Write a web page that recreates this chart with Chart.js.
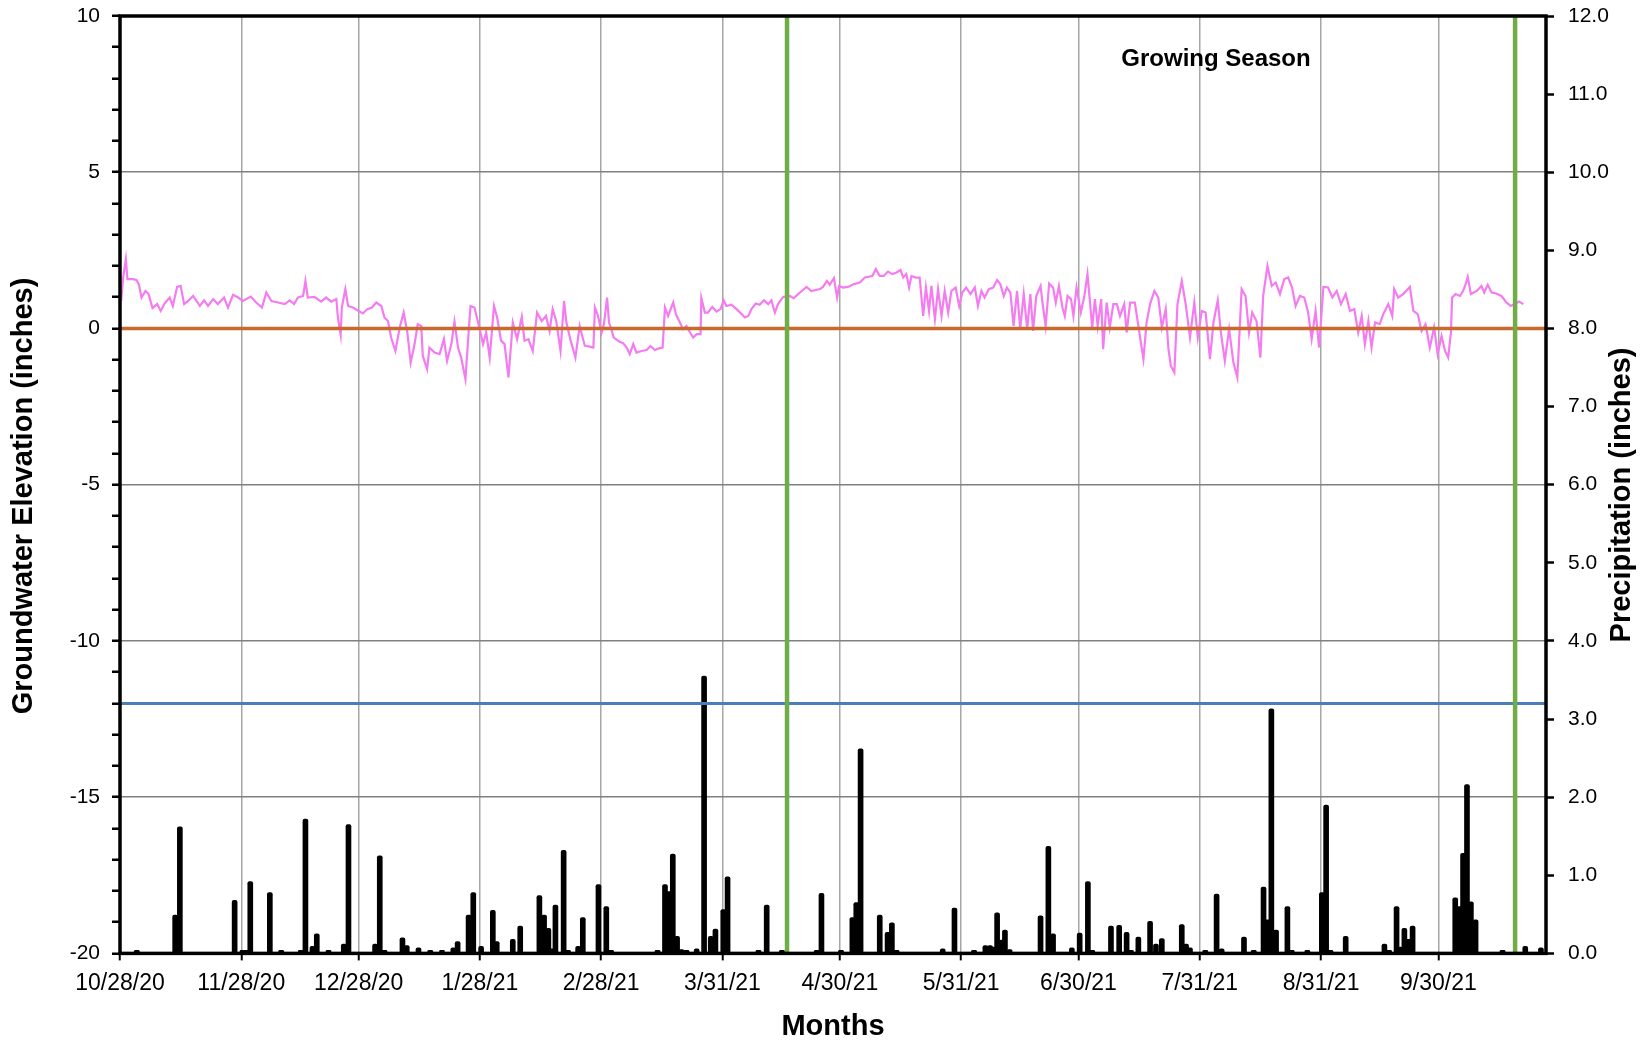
<!DOCTYPE html>
<html>
<head>
<meta charset="utf-8">
<title>Groundwater Elevation and Precipitation</title>
<script src="https://cdn.jsdelivr.net/npm/chart.js@4.4.1/dist/chart.umd.min.js"></script>
<style>
  html, body { margin: 0; padding: 0; background: #fff; }
  #wrap { width: 1648px; height: 1044px; position: relative; }
</style>
</head>
<body>
<div id="wrap"><canvas id="gwChart"></canvas></div>
<script>
// x positions are days since 10/28/20
const tickDays = [0, 31, 61, 92, 123, 154, 184, 215, 245, 276, 307, 337];
const tickLabels = ['10/28/20', '11/28/20', '12/28/20', '1/28/21', '2/28/21', '3/31/21',
  '4/30/21', '5/31/21', '6/30/21', '7/31/21', '8/31/21', '9/30/21'];

// growing season start / end (green lines)
const growingSeason = [170.5, 356.6];
// reference levels (inches)
const groundSurface = 0;
const criterionDepth = -12;

// groundwater elevation (inches)
const gwDays = [
  0.3, 0.8, 1.5, 1.9, 3.3, 4.2, 4.8, 5.5, 6.5, 7.3, 8.3, 9.5, 10.4, 11.4, 12.7, 13.5, 14.6, 15.5, 16.4, 17.4,
  18.7, 20.4, 21.5, 22.5, 23.8, 25.0, 26.6, 27.6, 28.9, 30.2, 31.4, 33.4, 34.8, 36.3, 37.4, 38.7, 40.4, 42.1, 43.4, 44.5,
  45.5, 46.8, 47.4, 48.0, 49.7, 51.4, 52.7, 54.0, 55.3, 55.7, 56.4, 56.7, 57.6, 58.3, 59.5, 61.0, 62.1, 63.2, 64.4, 65.5,
  66.8, 67.6, 68.5, 69.3, 70.4, 71.5, 72.5, 73.4, 74.3, 75.3, 76.1, 77.0, 77.4, 78.5, 79.1, 80.4, 81.7, 82.8, 83.6, 84.7,
  85.5, 86.4, 87.2, 88.3, 88.9, 89.6, 90.6, 91.9, 92.8, 93.6, 94.5, 95.6, 96.4, 97.4, 98.3, 99.3, 100.4, 101.5, 102.7, 103.4,
  104.4, 105.5, 106.6, 107.8, 108.9, 109.8, 110.6, 111.5, 112.6, 113.5, 114.1, 115.2, 116.4, 117.5, 118.8, 120.1, 121.0, 121.4, 122.2, 123.1,
  123.7, 124.5, 125.0, 125.6, 126.2, 127.6, 128.6, 129.5, 130.3, 131.2, 132.0, 133.3, 134.6, 135.6, 136.7, 138.0, 138.7, 139.3, 140.1, 141.4,
  142.1, 143.3, 143.9, 144.8, 145.7, 146.5, 147.4, 148.4, 148.6, 149.5, 150.3, 151.4, 152.5, 153.5, 154.3, 155.0, 156.3, 157.6, 158.9, 159.7,
  160.6, 161.4, 162.5, 163.5, 164.6, 165.7, 166.5, 167.4, 168.2, 169.5, 171.2, 172.2, 173.8, 175.5, 176.7, 178.9, 179.7, 180.7, 181.4, 182.5,
  183.3, 183.8, 184.8, 186.1, 187.6, 189.1, 190.4, 192.3, 193.2, 194.2, 195.2, 196.3, 197.4, 198.5, 199.5, 200.2, 201.0, 201.7, 202.3, 203.4,
  204.4, 205.3, 206.0, 206.8, 207.4, 208.3, 209.1, 210.0, 210.8, 211.7, 212.5, 213.6, 214.5, 215.3, 216.3, 217.4, 218.5, 219.3, 220.2, 221.0,
  222.1, 223.2, 224.2, 225.0, 225.9, 226.7, 227.6, 228.4, 229.3, 230.1, 231.0, 231.9, 232.7, 233.4, 234.2, 235.3, 235.8, 236.6, 237.5, 238.5,
  239.2, 240.0, 240.9, 241.5, 242.2, 243.1, 243.7, 244.5, 245.6, 246.5, 247.3, 247.9, 248.5, 249.2, 249.9, 250.8, 251.3, 252.2, 253.0, 253.9,
  254.8, 255.6, 256.7, 257.3, 258.2, 259.4, 260.5, 261.6, 262.4, 263.3, 264.4, 265.4, 266.3, 267.3, 268.0, 268.6, 269.5, 270.3, 271.4, 272.4,
  273.5, 274.6, 275.5, 276.5, 277.5, 278.6, 279.5, 280.6, 281.4, 282.4, 283.5, 284.6, 285.6, 286.7, 287.7, 288.6, 289.4, 290.5, 291.5, 292.2,
  293.3, 294.4, 295.4, 296.5, 297.6, 298.6, 299.6, 300.5, 301.6, 302.7, 303.7, 304.6, 305.6, 306.5, 307.6, 308.8, 309.9, 311.0, 312.1, 313.3,
  314.4, 315.5, 316.5, 317.4, 318.2, 319.1, 319.9, 320.8, 322.0, 322.9, 324.2, 325.2, 325.7, 326.7, 328.0, 329.7, 330.6, 331.7, 332.7, 333.7,
  334.8, 335.9, 336.8, 337.8, 338.7, 339.5, 340.2, 340.5, 341.4, 342.5, 343.3, 343.8, 344.5, 345.3, 346.8, 348.0, 348.7, 349.6, 350.6, 351.8,
  353.1, 354.4, 355.5, 356.5, 357.6, 358.7
];
const gwElev = [
  0.88, 1.63, 2.22, 1.58, 1.58, 1.55, 1.42, 0.99, 1.2, 1.1, 0.65, 0.78, 0.56, 0.8, 0.99, 0.72, 1.33, 1.36, 0.78, 0.88,
  1.04, 0.72, 0.9, 0.72, 0.94, 0.78, 0.99, 0.67, 1.08, 0.99, 0.88, 1.02, 0.83, 0.67, 1.15, 0.88, 0.83, 0.78, 0.9, 0.78,
  0.99, 1.04, 1.52, 0.99, 1.01, 0.86, 0.99, 0.86, 0.94, 0.35, -0.2, 0.67, 1.26, 0.72, 0.67, 0.56, 0.48, 0.62, 0.67, 0.83,
  0.72, 0.35, 0.24, -0.29, -0.72, 0.03, 0.51, -0.08, -1.09, -0.5, 0.14, 0.08, -0.88, -1.3, -0.61, -0.77, -0.82, -0.34, -1.04, -0.5,
  0.22, -0.61, -0.93, -1.62, -0.5, 0.72, 0.67, 0.0, -0.5, -0.13, -0.93, 0.72, 0.35, -0.39, -0.5, -1.57, 0.19, -0.34, 0.37, -0.39,
  -0.34, -0.72, 0.51, 0.24, 0.4, -0.08, 0.62, 0.24, -0.72, 0.88, 0.19, -0.39, -0.93, 0.08, -0.55, -0.58, -0.61, 0.67, 0.4, -0.13,
  0.14, 0.99, 0.19, -0.02, -0.29, -0.42, -0.47, -0.61, -0.82, -0.5, -0.77, -0.72, -0.69, -0.56, -0.69, -0.63, -0.61, 0.67, 0.4, 0.83,
  0.46, 0.14, -0.02, 0.08, -0.13, -0.29, -0.18, -0.18, 0.97, 0.51, 0.51, 0.69, 0.54, 0.62, 0.9, 0.72, 0.76, 0.62, 0.46, 0.35,
  0.4, 0.62, 0.8, 0.76, 0.9, 0.78, 0.9, 0.51, 0.78, 1.01, 1.04, 0.97, 1.15, 1.33, 1.2, 1.26, 1.33, 1.52, 1.4, 1.61,
  0.99, 1.36, 1.31, 1.33, 1.42, 1.47, 1.63, 1.68, 1.9, 1.68, 1.68, 1.82, 1.74, 1.79, 1.87, 1.63, 1.74, 1.31, 1.68, 1.63,
  1.63, 0.4, 1.31, 0.56, 1.36, 0.3, 1.26, 0.4, 1.2, 0.51, 1.2, 1.31, 0.72, 1.15, 1.31, 1.1, 1.31, 0.72, 1.2, 0.99,
  1.26, 1.31, 1.55, 1.42, 1.04, 1.31, 1.15, 0.08, 1.2, -0.02, 1.1, -0.02, 1.1, -0.08, 1.04, 1.36, 0.83, 0.08, 1.44, 1.31,
  0.83, 1.36, 0.67, 0.4, 1.04, 0.94, 0.4, 1.31, 0.51, 1.04, 1.74, 0.9, 0.03, 0.94, 0.08, 0.94, -0.66, 0.83, 0.03, 0.78,
  0.78, 0.4, 0.78, -0.13, 0.83, 0.83, -0.08, -0.98, 0.19, 0.78, 1.2, 0.99, 0.03, 0.62, -0.66, -1.2, -1.41, 0.78, 1.52, 0.78,
  -0.29, 0.83, -0.29, 0.56, 0.51, -0.98, 0.19, 0.9, -0.13, -1.04, -0.02, -1.09, -1.57, 1.26, 1.04, -0.13, 0.51, 0.24, -0.93, 1.04,
  2.0, 1.36, 1.47, 1.1, 1.58, 1.63, 1.31, 0.72, 1.04, 0.99, 0.51, -0.34, 0.56, -0.61, 1.33, 1.31, 0.99, 1.2, 0.78, 1.1,
  0.56, 0.62, -0.13, 0.4, -0.5, 0.24, -0.61, 0.19, 0.14, 0.46, 0.78, 0.4, 1.26, 0.99, 1.1, 1.33, 0.56, 0.46, -0.08, 0.14,
  -0.61, 0.03, -0.82, -0.24, -0.72, -0.93, -0.13, 0.99, 1.1, 1.04, 1.2, 1.36, 1.65, 1.1, 1.2, 1.36, 1.15, 1.4, 1.15, 1.12,
  1.04, 0.83, 0.72, 0.78, 0.86, 0.78
];

// daily precipitation (inches)
const rainDays = [
  4.3, 14.1, 15.3, 29.3, 31.3, 32.2, 33.3, 38.3, 41.2, 46.2, 47.4, 49.2, 50.3, 53.3, 57.2, 58.4, 65.2, 66.4, 67.6, 72.2,
  73.3, 76.3, 79.3, 82.3, 85.2, 86.3, 89.1, 90.3, 92.3, 95.3, 96.3, 100.4, 102.3, 107.2, 108.4, 109.5, 110.4, 111.3, 113.4, 114.5,
  117.1, 118.3, 122.3, 124.3, 125.5, 137.4, 139.3, 140.3, 141.3, 142.4, 143.5, 144.8, 147.4, 149.3, 151.0, 152.2, 154.2, 155.3, 163.2, 165.3,
  169.2, 178.1, 179.3, 184.3, 187.2, 188.2, 189.3, 194.2, 196.2, 197.3, 198.5, 210.3, 213.3, 218.3, 221.2, 222.4, 223.2, 224.2, 225.4, 226.2,
  227.4, 235.3, 237.3, 238.5, 243.3, 245.3, 247.4, 248.5, 253.3, 255.4, 257.3, 258.4, 260.3, 263.3, 264.8, 266.3, 271.4, 272.5, 273.5, 277.4,
  280.3, 281.6, 287.3, 289.8, 292.3, 293.3, 294.3, 295.5, 298.4, 299.5, 303.5, 307.2, 308.3, 309.4, 313.3, 323.2, 324.4, 326.3, 327.3, 328.3,
  329.3, 330.4, 341.3, 342.3, 343.3, 344.3, 345.3, 346.5, 353.4, 359.2, 363.2
];
const rainInches = [
  0.03, 0.49, 1.62, 0.68, 0.04, 0.03, 0.92, 0.78, 0.01, 0.04, 1.72, 0.09, 0.25, 0.04, 0.12, 1.65, 0.12, 1.25, 0.01, 0.2,
  0.1, 0.07, 0.02, 0.04, 0.07, 0.15, 0.49, 0.78, 0.09, 0.55, 0.15, 0.18, 0.35, 0.74, 0.49, 0.32, 0.06, 0.62, 1.32, 0.03,
  0.09, 0.46, 0.88, 0.6, 0.03, 0.01, 0.88, 0.79, 1.27, 0.22, 0.05, 0.02, 0.06, 3.55, 0.22, 0.31, 0.56, 0.98, 0.01, 0.62,
  0.02, 0.03, 0.77, 0.02, 0.46, 0.65, 2.62, 0.49, 0.27, 0.39, 0.02, 0.06, 0.58, 0.02, 0.1, 0.1, 0.08, 0.52, 0.17, 0.3,
  0.05, 0.48, 1.37, 0.25, 0.07, 0.26, 0.92, 0.02, 0.35, 0.36, 0.27, 0.04, 0.21, 0.41, 0.12, 0.19, 0.37, 0.12, 0.07, 0.02,
  0.76, 0.06, 0.21, 0.02, 0.85, 0.43, 3.13, 0.3, 0.6, 0.03, 0.04, 0.78, 1.9, 0.03, 0.22, 0.12, 0.04, 0.6, 0.08, 0.32,
  0.18, 0.35, 0.71, 0.6, 1.28, 2.16, 0.66, 0.43, 0.03, 0.09, 0.07
];

const FONT = "'Liberation Sans', Arial, Helvetica, sans-serif";
Chart.defaults.font.family = FONT;
Chart.defaults.color = '#000';

const xMax = 364.5;

// thick black frame round the plot area
const plotFrame = {
  id: 'plotFrame',
  afterDatasetsDraw(chart) {
    const { ctx, chartArea: a } = chart;
    ctx.save();
    ctx.strokeStyle = '#000';
    ctx.lineWidth = 3.5;
    ctx.strokeRect(a.left, a.top, a.right - a.left, a.bottom - a.top);
    ctx.restore();
  }
};

// axis titles that read bottom-to-top, and the annotation
const chartTexts = {
  id: 'chartTexts',
  afterDraw(chart) {
    const { ctx } = chart;
    ctx.save();
    ctx.fillStyle = '#000';
    ctx.textAlign = 'center';
    ctx.textBaseline = 'middle';
    ctx.font = 'bold 29px ' + FONT;

    ctx.save();
    ctx.translate(24, 496);
    ctx.rotate(-Math.PI / 2);
    ctx.fillText('Groundwater Elevation (inches)', 0, 0);
    ctx.restore();

    ctx.save();
    ctx.translate(1622, 495);
    ctx.rotate(-Math.PI / 2);
    ctx.fillText('Precipitation (inches)', 0, 0);
    ctx.restore();

    ctx.font = 'bold 24px ' + FONT;
    ctx.fillText('Growing Season', 1216, 59);
    ctx.restore();
  }
};

function hLine(level) {
  return [{ x: 0, y: level }, { x: xMax, y: level }];
}
function vLine(day) {
  return [{ x: day, y: -20 }, { x: day, y: 10 }];
}

// fixed box sizes so the plot area sits where the original one does
function fitVertical(width) {
  return axis => {
    axis.width = width;
    axis.paddingTop = 0;
    axis.paddingBottom = 0;
  };
}

const chart = new Chart(document.getElementById('gwChart').getContext('2d'), {
  type: 'bar',
  data: {
    datasets: [
      {
        type: 'line',
        label: 'Growing season start',
        data: vLine(growingSeason[0]),
        borderColor: '#70ad47',
        borderWidth: 4.5,
        pointRadius: 0,
        yAxisID: 'y',
        order: 1
      },
      {
        type: 'line',
        label: 'Growing season end',
        data: vLine(growingSeason[1]),
        borderColor: '#70ad47',
        borderWidth: 4.5,
        pointRadius: 0,
        yAxisID: 'y',
        order: 1
      },
      {
        type: 'line',
        label: 'Ground surface',
        data: hLine(groundSurface),
        borderColor: '#c8692e',
        borderWidth: 3.5,
        pointRadius: 0,
        yAxisID: 'y',
        order: 2
      },
      {
        type: 'line',
        label: '12 inch depth',
        data: hLine(criterionDepth),
        borderColor: '#4a7ebb',
        borderWidth: 3,
        pointRadius: 0,
        yAxisID: 'y',
        order: 2
      },
      {
        type: 'line',
        label: 'Groundwater',
        data: gwDays.map((d, i) => ({ x: d, y: gwElev[i] })),
        borderColor: '#f47cf0',
        borderWidth: 2.2,
        pointRadius: 0,
        tension: 0,
        yAxisID: 'y',
        order: 3
      },
      {
        type: 'bar',
        label: 'Precipitation',
        data: rainDays.map((d, i) => ({ x: d, y: rainInches[i] })),
        backgroundColor: '#000',
        barThickness: 5,
        borderRadius: 2,
        minBarLength: 3,
        yAxisID: 'yP',
        order: 4
      }
    ]
  },
  options: {
    responsive: true,
    maintainAspectRatio: false,
    animation: false,
    layout: { padding: { top: 16, left: 0, right: 0, bottom: 0 } },
    plugins: {
      legend: { display: false },
      tooltip: { enabled: false }
    },
    scales: {
      x: {
        type: 'linear',
        min: 0,
        max: xMax,
        offset: false,
        afterBuildTicks: axis => { axis.ticks = tickDays.map(d => ({ value: d })); },
        afterFit: axis => { axis.height = 90.6; },
        ticks: {
          callback: (v, i) => tickLabels[i],
          font: { size: 23 },
          color: '#000',
          padding: 9,
          maxRotation: 0,
          autoSkip: false
        },
        grid: { color: '#a6a6a6', lineWidth: 1.5, tickColor: '#000', tickLength: 7, tickWidth: 2, offset: false },
        border: { display: false },
        title: {
          display: true,
          text: 'Months',
          font: { size: 29, weight: 'bold' },
          color: '#000',
          padding: { top: 0, bottom: 0 }
        }
      },
      y: {
        position: 'left',
        min: -20,
        max: 10,
        afterFit: fitVertical(120),
        ticks: {
          stepSize: 1,
          autoSkip: false,
          callback: v => (v % 5 === 0 ? String(v) : ''),
          font: { size: 21 },
          color: '#000',
          padding: 12
        },
        grid: {
          color: ctx => (ctx.tick && ctx.tick.value % 5 === 0 ? '#808080' : 'rgba(0,0,0,0)'),
          lineWidth: 1.5,
          tickColor: '#000',
          tickLength: 8,
          tickWidth: 2.5
        },
        border: { display: false }
      },
      yP: {
        position: 'right',
        min: 0,
        max: 12,
        afterFit: fitVertical(102),
        ticks: {
          stepSize: 1,
          autoSkip: false,
          callback: v => v.toFixed(1),
          font: { size: 21 },
          color: '#000',
          padding: 14
        },
        grid: { drawOnChartArea: false, tickColor: '#000', tickLength: 8, tickWidth: 2.5 },
        border: { display: false }
      }
    }
  },
  plugins: [plotFrame, chartTexts]
});
</script>
</body>
</html>
